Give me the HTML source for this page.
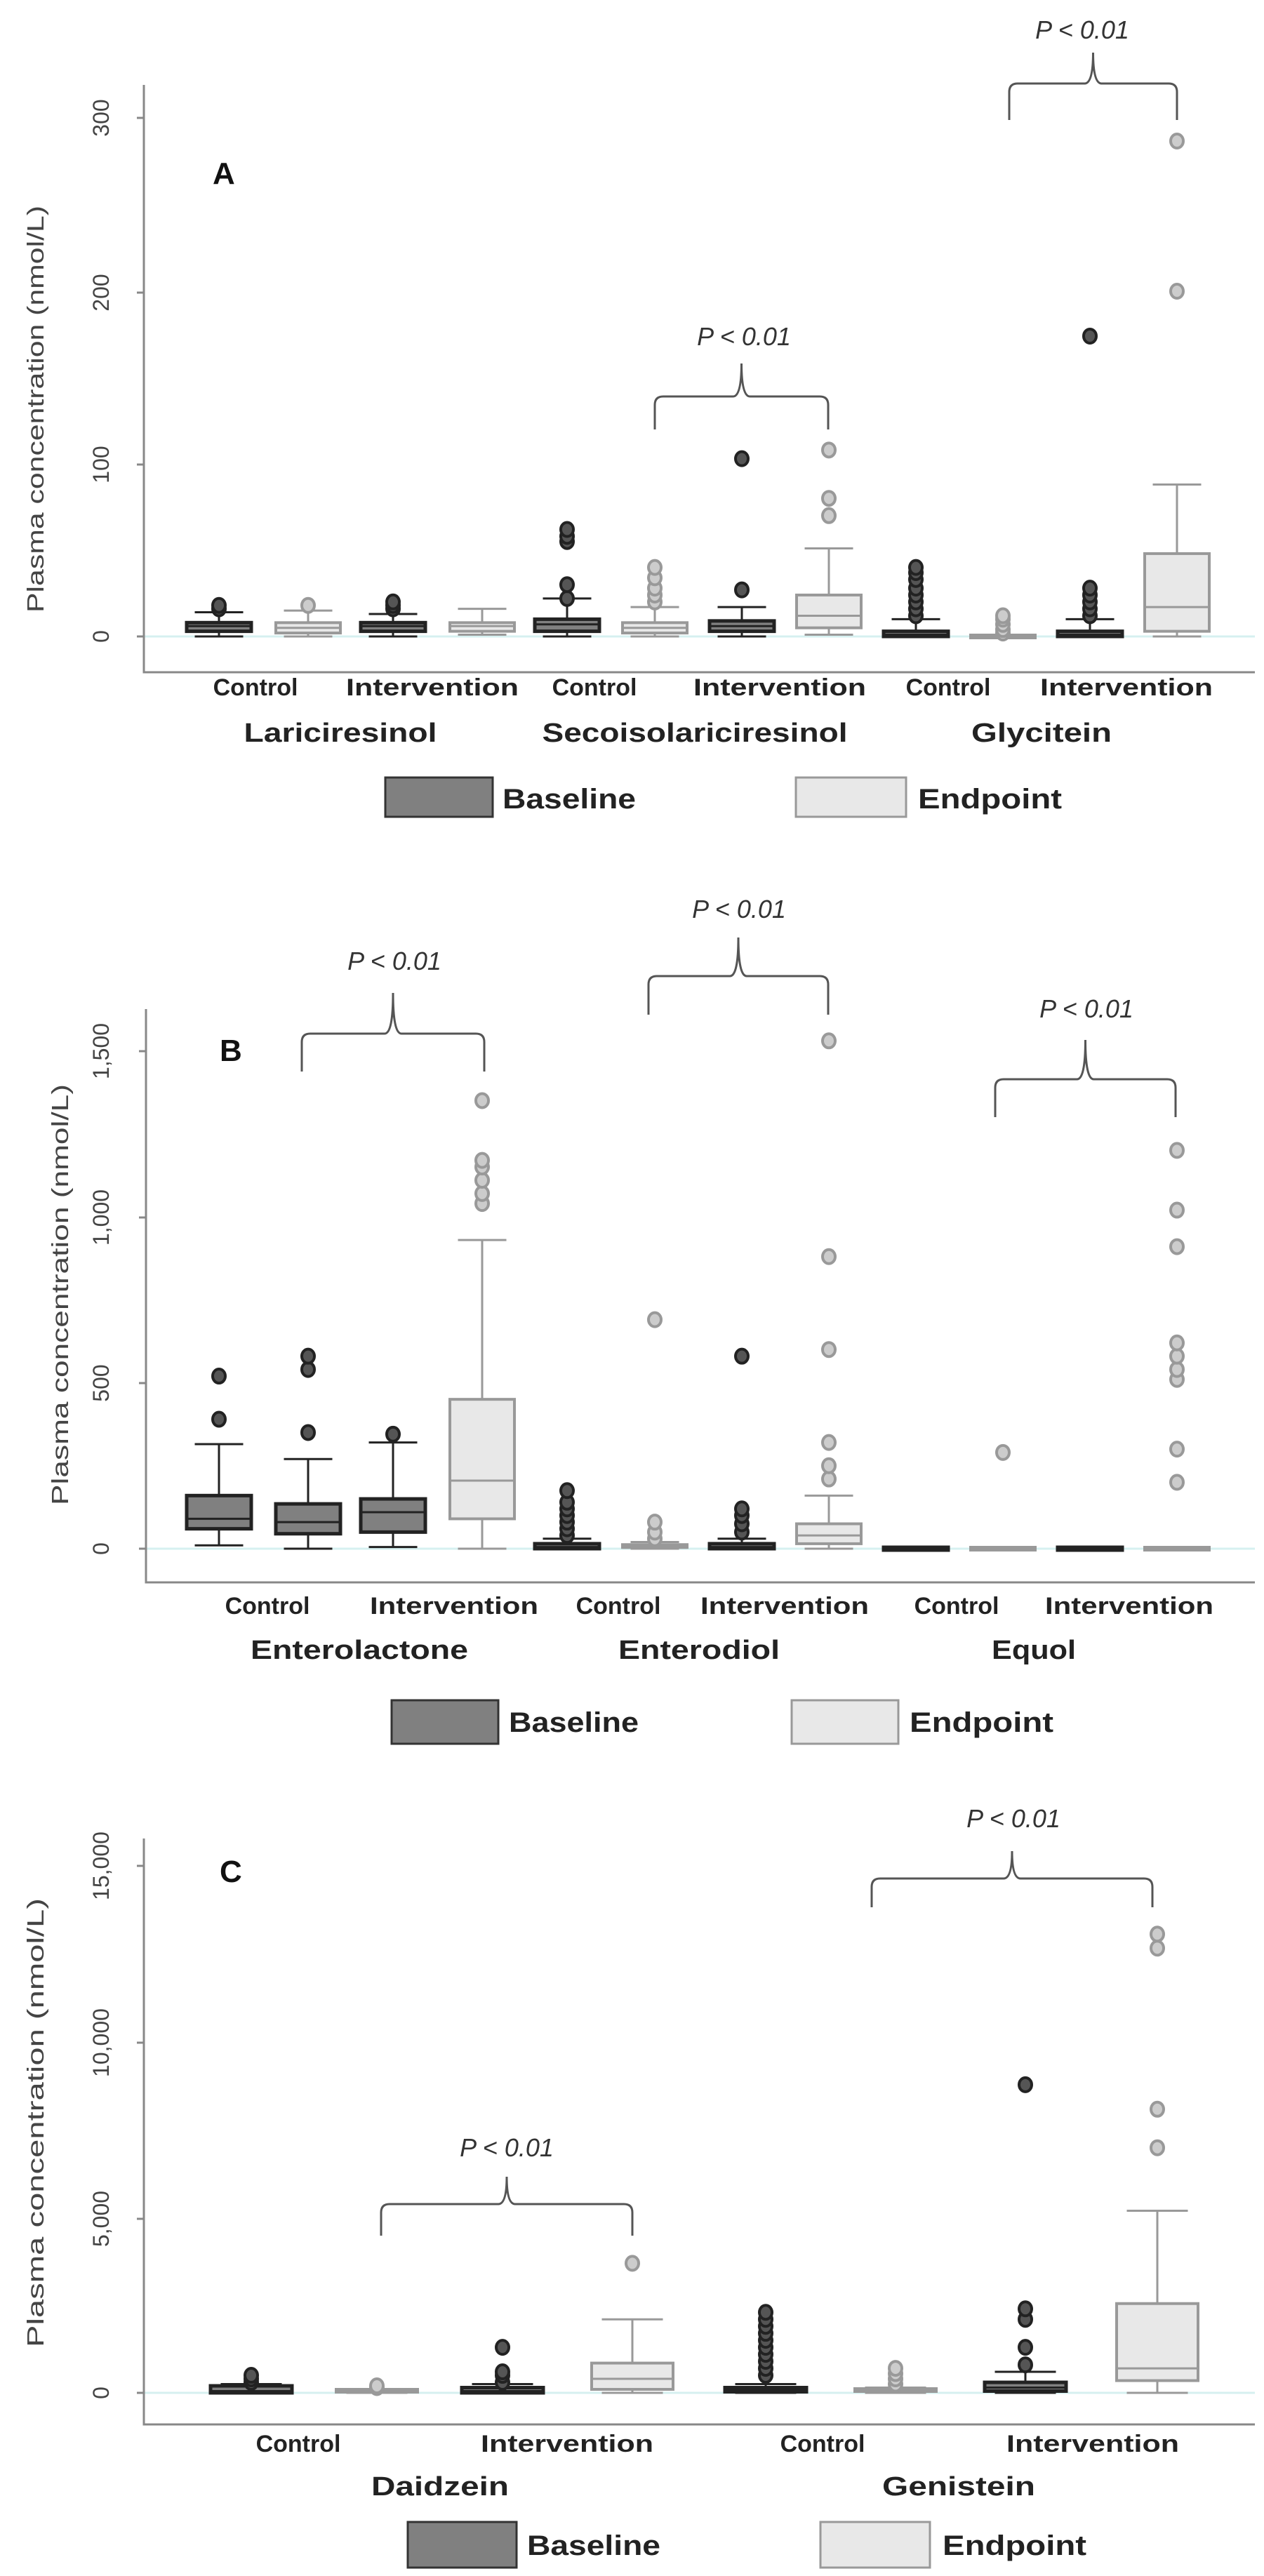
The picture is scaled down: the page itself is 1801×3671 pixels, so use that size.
<!DOCTYPE html>
<html><head><meta charset="utf-8"><style>
html,body{margin:0;padding:0;background:#fff}
svg{display:block}
.tk{font-family:"Liberation Sans",sans-serif;font-size:32px;fill:#444}
.yl{font-family:"Liberation Sans",sans-serif;font-size:33px;fill:#444}
.cat{font-family:"Liberation Sans",sans-serif;font-size:34px;font-weight:bold;fill:#222}
.grp{font-family:"Liberation Sans",sans-serif;font-size:38px;font-weight:bold;fill:#222}
.leg{font-family:"Liberation Sans",sans-serif;font-size:40px;font-weight:bold;fill:#222}
.pv{font-family:"Liberation Sans",sans-serif;font-size:36px;font-style:italic;fill:#333}
.pl{font-family:"Liberation Sans",sans-serif;font-size:44px;font-weight:bold;fill:#111}
</style></head><body>
<svg id="s" width="1801" height="3671" viewBox="0 0 1801 3671" xmlns="http://www.w3.org/2000/svg">
<rect width="1801" height="3671" fill="#fff"/>
<g id="plots"></g>
<!-- Panel A text -->
<text class="pl" x="303" y="262">A</text>
<text class="yl" transform="translate(62,583) rotate(-90)" text-anchor="middle" textLength="580" lengthAdjust="spacingAndGlyphs">Plasma concentration (nmol/L)</text>
<text class="tk" transform="translate(155,168) rotate(-90)" text-anchor="middle">300</text>
<text class="tk" transform="translate(155,417) rotate(-90)" text-anchor="middle">200</text>
<text class="tk" transform="translate(155,662) rotate(-90)" text-anchor="middle">100</text>
<text class="tk" transform="translate(155,907) rotate(-90)" text-anchor="middle">0</text>
<text class="cat" x="364" y="991" text-anchor="middle">Control</text>
<text class="cat" x="616" y="991" text-anchor="middle" textLength="246" lengthAdjust="spacingAndGlyphs">Intervention</text>
<text class="cat" x="847" y="991" text-anchor="middle">Control</text>
<text class="cat" x="1111" y="991" text-anchor="middle" textLength="246" lengthAdjust="spacingAndGlyphs">Intervention</text>
<text class="cat" x="1351" y="991" text-anchor="middle">Control</text>
<text class="cat" x="1605" y="991" text-anchor="middle" textLength="246" lengthAdjust="spacingAndGlyphs">Intervention</text>
<text class="grp" x="485" y="1057" text-anchor="middle" textLength="275" lengthAdjust="spacingAndGlyphs">Lariciresinol</text>
<text class="grp" x="990" y="1057" text-anchor="middle" textLength="435" lengthAdjust="spacingAndGlyphs">Secoisolariciresinol</text>
<text class="grp" x="1484" y="1057" text-anchor="middle" textLength="200" lengthAdjust="spacingAndGlyphs">Glycitein</text>
<text class="pv" x="1060" y="492" text-anchor="middle">P &lt; 0.01</text>
<text class="pv" x="1542" y="55" text-anchor="middle">P &lt; 0.01</text>
<rect x="549" y="1108" width="153" height="56" fill="#808080" stroke="#333" stroke-width="3"/>
<text class="leg" x="716" y="1152" textLength="190" lengthAdjust="spacingAndGlyphs">Baseline</text>
<rect x="1134" y="1108" width="157" height="56" fill="#e8e8e8" stroke="#999" stroke-width="3"/>
<text class="leg" x="1308" y="1152" textLength="205" lengthAdjust="spacingAndGlyphs">Endpoint</text>

<!-- Panel B text -->
<text class="pl" x="313" y="1512">B</text>
<text class="yl" transform="translate(97,1845) rotate(-90)" text-anchor="middle" textLength="600" lengthAdjust="spacingAndGlyphs">Plasma concentration (nmol/L)</text>
<text class="tk" transform="translate(155,1498) rotate(-90)" text-anchor="middle">1,500</text>
<text class="tk" transform="translate(155,1735) rotate(-90)" text-anchor="middle">1,000</text>
<text class="tk" transform="translate(155,1971) rotate(-90)" text-anchor="middle">500</text>
<text class="tk" transform="translate(155,2207) rotate(-90)" text-anchor="middle">0</text>
<text class="cat" x="381" y="2300" text-anchor="middle">Control</text>
<text class="cat" x="647" y="2300" text-anchor="middle" textLength="240" lengthAdjust="spacingAndGlyphs">Intervention</text>
<text class="cat" x="881" y="2300" text-anchor="middle">Control</text>
<text class="cat" x="1118" y="2300" text-anchor="middle" textLength="240" lengthAdjust="spacingAndGlyphs">Intervention</text>
<text class="cat" x="1363" y="2300" text-anchor="middle">Control</text>
<text class="cat" x="1609" y="2300" text-anchor="middle" textLength="240" lengthAdjust="spacingAndGlyphs">Intervention</text>
<text class="grp" x="512" y="2364" text-anchor="middle" textLength="310" lengthAdjust="spacingAndGlyphs">Enterolactone</text>
<text class="grp" x="996" y="2364" text-anchor="middle" textLength="230" lengthAdjust="spacingAndGlyphs">Enterodiol</text>
<text class="grp" x="1473" y="2364" text-anchor="middle" textLength="120" lengthAdjust="spacingAndGlyphs">Equol</text>
<text class="pv" x="562" y="1382" text-anchor="middle">P &lt; 0.01</text>
<text class="pv" x="1053" y="1308" text-anchor="middle">P &lt; 0.01</text>
<text class="pv" x="1548" y="1450" text-anchor="middle">P &lt; 0.01</text>
<rect x="558" y="2423" width="152" height="62" fill="#808080" stroke="#333" stroke-width="3"/>
<text class="leg" x="725" y="2468" textLength="185" lengthAdjust="spacingAndGlyphs">Baseline</text>
<rect x="1128" y="2423" width="152" height="62" fill="#e8e8e8" stroke="#999" stroke-width="3"/>
<text class="leg" x="1296" y="2468" textLength="205" lengthAdjust="spacingAndGlyphs">Endpoint</text>

<!-- Panel C text -->
<text class="pl" x="313" y="2682">C</text>
<text class="yl" transform="translate(62,3025) rotate(-90)" text-anchor="middle" textLength="640" lengthAdjust="spacingAndGlyphs">Plasma concentration (nmol/L)</text>
<text class="tk" transform="translate(155,2659) rotate(-90)" text-anchor="middle">15,000</text>
<text class="tk" transform="translate(155,2911) rotate(-90)" text-anchor="middle">10,000</text>
<text class="tk" transform="translate(155,3162) rotate(-90)" text-anchor="middle">5,000</text>
<text class="tk" transform="translate(155,3410) rotate(-90)" text-anchor="middle">0</text>
<text class="cat" x="425" y="3494" text-anchor="middle">Control</text>
<text class="cat" x="808" y="3494" text-anchor="middle" textLength="246" lengthAdjust="spacingAndGlyphs">Intervention</text>
<text class="cat" x="1172" y="3494" text-anchor="middle">Control</text>
<text class="cat" x="1557" y="3494" text-anchor="middle" textLength="246" lengthAdjust="spacingAndGlyphs">Intervention</text>
<text class="grp" x="627" y="3556" text-anchor="middle" textLength="196" lengthAdjust="spacingAndGlyphs">Daidzein</text>
<text class="grp" x="1366" y="3556" text-anchor="middle" textLength="218" lengthAdjust="spacingAndGlyphs">Genistein</text>
<text class="pv" x="722" y="3073" text-anchor="middle">P  &lt; 0.01</text>
<text class="pv" x="1444" y="2604" text-anchor="middle">P  &lt; 0.01</text>
<rect x="581" y="3594" width="155" height="65" fill="#808080" stroke="#333" stroke-width="3"/>
<text class="leg" x="751" y="3641" textLength="190" lengthAdjust="spacingAndGlyphs">Baseline</text>
<rect x="1169" y="3594" width="156" height="65" fill="#e8e8e8" stroke="#999" stroke-width="3"/>
<text class="leg" x="1343" y="3641" textLength="205" lengthAdjust="spacingAndGlyphs">Endpoint</text>
</svg>
<script>
var g=document.getElementById('plots'),NS='http://www.w3.org/2000/svg';
function el(t,a){var e=document.createElementNS(NS,t);for(var k in a)e.setAttribute(k,a[k]);g.appendChild(e);return e;}
function axes(x0,top,xa,x1,ticks,zero){
 el('line',{x1:x0,y1:zero,x2:x1,y2:zero,stroke:'#d6f0f0','stroke-width':3});
 el('polyline',{points:x0+','+top+' '+x0+','+xa+' '+x1+','+xa,fill:'none',stroke:'#888','stroke-width':3});
 ticks.forEach(function(t){el('line',{x1:x0-10,y1:t,x2:x0,y2:t,stroke:'#888','stroke-width':3});});
}
function brace(xa,xb,top,ends,peak){
 var m=(xa+xb)/2,r=12;
 el('path',{d:'M'+xa+','+ends+' L'+xa+','+(top+r)+' Q'+xa+','+top+' '+(xa+r)+','+top+' L'+(m-r)+','+top+' Q'+m+','+top+' '+m+','+peak+' Q'+m+','+top+' '+(m+r)+','+top+' L'+(xb-r)+','+top+' Q'+xb+','+top+' '+xb+','+(top+r)+' L'+xb+','+ends,fill:'none',stroke:'#555','stroke-width':3});
}
function box(cx,Y,hw,lo,q1,md,q3,hi,out,base){
 var st=base?'#222':'#999',fi=base?'#808080':'#e8e8e8',cw=hw*0.75;
 el('line',{x1:cx,y1:Y(lo),x2:cx,y2:Y(hi),stroke:st,'stroke-width':3});
 el('line',{x1:cx-cw,y1:Y(lo),x2:cx+cw,y2:Y(lo),stroke:st,'stroke-width':3});
 el('line',{x1:cx-cw,y1:Y(hi),x2:cx+cw,y2:Y(hi),stroke:st,'stroke-width':3});
 var h=Math.max(Y(q1)-Y(q3),4);
 el('rect',{x:cx-hw,y:Y(q3)-(h==4?2:0),width:2*hw,height:h,fill:fi,stroke:st,'stroke-width':base?5:4});
 el('line',{x1:cx-hw,y1:Y(md),x2:cx+hw,y2:Y(md),stroke:st,'stroke-width':3});
 out.forEach(function(v){el('ellipse',{cx:cx,cy:Y(v),rx:9,ry:10,fill:base?'#555':'#ccc',stroke:base?'#222':'#999','stroke-width':4});});
}
// Panel A
axes(205,121,958,1788,[168,417,662,907],907);
var YA=function(v){return 907-v*2.46;},hA=46;
var xs=[312,439,560,687,808,933,1057,1181,1305,1429,1553,1677];
box(xs[0],YA,hA,0,3,6,8,14,[16,18],1);
box(xs[1],YA,hA,0,2,5,8,15,[18],0);
box(xs[2],YA,hA,0,3,6,8,13,[16,18,20],1);
box(xs[3],YA,hA,1,3,6,8,16,[],0);
box(xs[4],YA,hA,0,3,7,10,22,[22,30,55,58,62],1);
box(xs[5],YA,hA,0,2,5,8,17,[20,24,28,34,40],0);
box(xs[6],YA,hA,0,3,6,9,17,[27,103],1);
box(xs[7],YA,hA,1,5,12,24,51,[70,80,108],0);
box(xs[8],YA,hA,0,0,1,3,10,[12,16,20,24,28,33,37,40],1);
box(xs[9],YA,hA,0,0,0,0,0,[2,4,7,10,12],0);
box(xs[10],YA,hA,0,0,1,3,10,[12,16,20,24,28,174],1);
box(xs[11],YA,hA,0,3,17,48,88,[200,287],0);
brace(933,1180,565,612,518);
brace(1438,1677,119,171,75);
// Panel B
axes(208,1438,2255,1788,[1498,1735,1971,2207],2207);
var YB=function(v){return 2207-v*0.473;};
box(xs[0],YB,hA,10,60,90,160,315,[390,520],1);
box(xs[1],YB,hA,0,45,80,135,270,[350,540,580],1);
box(xs[2],YB,hA,5,50,110,150,320,[345],1);
box(xs[3],YB,hA,0,90,205,450,930,[1040,1070,1110,1150,1170,1350],0);
box(xs[4],YB,hA,0,0,5,15,30,[40,60,80,100,120,140,175],1);
box(xs[5],YB,hA,0,0,3,8,20,[30,50,80,690],0);
box(xs[6],YB,hA,0,0,5,15,30,[50,75,100,120,580],1);
box(xs[7],YB,hA,0,15,40,75,160,[210,250,320,600,880,1530],0);
box(xs[8],YB,hA,0,0,0,0,0,[],1);
box(xs[9],YB,hA,0,0,0,0,0,[290],0);
box(xs[10],YB,hA,0,0,0,0,0,[],1);
box(xs[11],YB,hA,0,0,0,0,0,[200,300,510,540,580,620,910,1020,1200],0);
brace(430,690,1473,1527,1415);
brace(924,1180,1391,1446,1336);
brace(1418,1675,1538,1592,1482);
// Panel C
axes(205,2620,3455,1788,[2659,2911,3162,3410],3410);
var YC=function(v){return 3410-v*0.0499;},hC=58;
var xc=[358,537,716,901,1091,1276,1461,1649];
box(xc[0],YC,hC,0,0,50,200,250,[300,400,500],1);
box(xc[1],YC,hC,0,0,30,60,100,[150,200],0);
box(xc[2],YC,hC,0,0,50,150,250,[300,500,600,1300],1);
box(xc[3],YC,hC,0,100,400,850,2100,[3700],0);
box(xc[4],YC,hC,0,30,80,150,250,[500,700,900,1100,1300,1500,1700,1900,2100,2300],1);
box(xc[5],YC,hC,0,0,30,80,150,[250,400,550,700],0);
box(xc[6],YC,hC,0,50,150,300,600,[800,1300,2100,2400,8800],1);
box(xc[7],YC,hC,0,350,700,2550,5200,[7000,8100,12700,13100],0);
brace(543,901,3141,3186,3102);
brace(1242,1642,2677,2718,2638);
</script>
</body></html>
